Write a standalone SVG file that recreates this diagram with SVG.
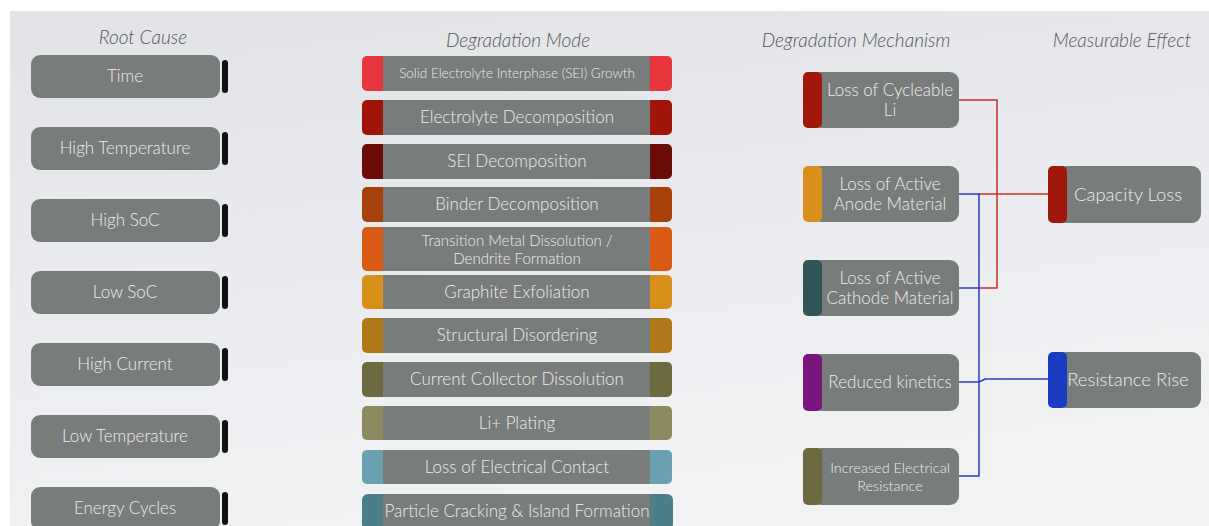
<svg xmlns="http://www.w3.org/2000/svg" width="1209" height="526" viewBox="0 0 1209 526">
<defs>
<linearGradient id="bg" x1="0" y1="0" x2="0.3" y2="1">
<stop offset="0" stop-color="#e1e3e7"/>
<stop offset="1" stop-color="#f1f2f4"/>
</linearGradient>
<style>
.hdr{font-family:Lato,"Open Sans",sans-serif;font-style:italic;font-weight:300;font-size:19px;fill:#555555;text-anchor:middle}
.box{fill:#787c7a}
.t{font-family:Lato,"Open Sans",sans-serif;font-weight:300;font-size:17px;fill:#eeeeee;text-anchor:middle}
.bar{fill:#111}
.red{stroke:#c4302a;stroke-width:1.5;fill:none}
.blue{stroke:#2a3cc4;stroke-width:1.5;fill:none}
</style>
</defs>
<rect x="0" y="0" width="1209" height="526" fill="#ffffff"/>
<rect x="10" y="11" width="1199" height="515" fill="url(#bg)"/>

<text class="hdr" x="143" y="44">Root Cause</text>
<text class="hdr" x="518" y="47">Degradation Mode</text>
<text class="hdr" x="856" y="47">Degradation Mechanism</text>
<text class="hdr" x="1122" y="47">Measurable Effect</text>

<g id="rc-time"><rect class="box" x="31" y="55" width="189" height="43" rx="9"/><rect class="bar" x="222" y="60" width="6" height="33" rx="3"/><text class="t" x="125" y="82">Time</text></g>
<g id="rc-hightemp"><rect class="box" x="31" y="127" width="189" height="43" rx="9"/><rect class="bar" x="222" y="132" width="6" height="33" rx="3"/><text class="t" x="125" y="154">High Temperature</text></g>
<g id="rc-highsoc"><rect class="box" x="31" y="199" width="189" height="43" rx="9"/><rect class="bar" x="222" y="204" width="6" height="33" rx="3"/><text class="t" x="125" y="226">High SoC</text></g>
<g id="rc-lowsoc"><rect class="box" x="31" y="271" width="189" height="43" rx="9"/><rect class="bar" x="222" y="276" width="6" height="33" rx="3"/><text class="t" x="125" y="298">Low SoC</text></g>
<g id="rc-highcurrent"><rect class="box" x="31" y="343" width="189" height="43" rx="9"/><rect class="bar" x="222" y="348" width="6" height="33" rx="3"/><text class="t" x="125" y="370">High Current</text></g>
<g id="rc-lowtemp"><rect class="box" x="31" y="415" width="189" height="43" rx="9"/><rect class="bar" x="222" y="420" width="6" height="33" rx="3"/><text class="t" x="125" y="442">Low Temperature</text></g>
<g id="rc-energy"><rect class="box" x="31" y="487" width="189" height="43" rx="9"/><rect class="bar" x="222" y="492" width="6" height="33" rx="3"/><text class="t" x="125" y="514">Energy Cycles</text></g>

<g id="dm-sei-growth"><rect x="362" y="56" width="310" height="35" rx="5" fill="#e8363f"/><rect class="box" x="383" y="56" width="267" height="35"/><text class="t" x="517" y="78" style="font-size:13.5px">Solid Electrolyte Interphase (SEI) Growth</text></g>
<g id="dm-electrolyte"><rect x="362" y="100" width="310" height="35" rx="5" fill="#a0150a"/><rect class="box" x="383" y="100" width="267" height="35"/><text class="t" x="517" y="123">Electrolyte Decomposition</text></g>
<g id="dm-sei-decomp"><rect x="362" y="144" width="310" height="35" rx="5" fill="#6b0c08"/><rect class="box" x="383" y="144" width="267" height="35"/><text class="t" x="517" y="167">SEI Decomposition</text></g>
<g id="dm-binder"><rect x="362" y="187" width="310" height="35" rx="5" fill="#a8400c"/><rect class="box" x="383" y="187" width="267" height="35"/><text class="t" x="517" y="210">Binder Decomposition</text></g>
<g id="dm-transition"><rect x="362" y="227" width="310" height="44" rx="5" fill="#d85a15"/><rect class="box" x="383" y="227" width="267" height="44"/><text class="t" x="517" y="246" style="font-size:15px">Transition Metal Dissolution /</text><text class="t" x="517" y="264" style="font-size:15px">Dendrite Formation</text></g>
<g id="dm-graphite"><rect x="362" y="275" width="310" height="34" rx="5" fill="#d8901a"/><rect class="box" x="383" y="275" width="267" height="34"/><text class="t" x="517" y="298">Graphite Exfoliation</text></g>
<g id="dm-structural"><rect x="362" y="318" width="310" height="35" rx="5" fill="#b07818"/><rect class="box" x="383" y="318" width="267" height="35"/><text class="t" x="517" y="341">Structural Disordering</text></g>
<g id="dm-collector"><rect x="362" y="362" width="310" height="35" rx="5" fill="#6e6a40"/><rect class="box" x="383" y="362" width="267" height="35"/><text class="t" x="517" y="385">Current Collector Dissolution</text></g>
<g id="dm-plating"><rect x="362" y="406" width="310" height="34" rx="5" fill="#8e8a60"/><rect class="box" x="383" y="406" width="267" height="34"/><text class="t" x="517" y="429">Li+ Plating</text></g>
<g id="dm-contact"><rect x="362" y="450" width="310" height="34" rx="5" fill="#6aa0b0"/><rect class="box" x="383" y="450" width="267" height="34"/><text class="t" x="517" y="473">Loss of Electrical Contact</text></g>
<g id="dm-cracking"><rect x="362" y="494" width="311" height="36" rx="6" fill="#4a7e88"/><rect class="box" x="383" y="494" width="267" height="36"/><text class="t" x="517" y="517">Particle Cracking &amp; Island Formation</text></g>

<g id="connectors">
<polyline class="red" points="959,100 997,100 997,288 979,288"/>
<line class="red" x1="979" y1="194" x2="1048" y2="194"/>
<polyline class="blue" points="959,194 979,194 979,476 959,476"/>
<line class="blue" x1="959" y1="288" x2="979" y2="288"/>
<line class="blue" x1="959" y1="382" x2="979" y2="382"/>
<polyline class="blue" points="979,382 985,379 1048,379"/>
</g>

<g id="mech-li"><rect class="box" x="812" y="72" width="147" height="56" rx="9"/><rect x="803" y="72" width="19" height="56" rx="5" fill="#a0180c"/><text class="t" x="890" y="96">Loss of Cycleable</text><text class="t" x="890" y="116">Li</text></g>
<g id="mech-anode"><rect class="box" x="812" y="166" width="147" height="56" rx="9"/><rect x="803" y="166" width="19" height="56" rx="5" fill="#d8901a"/><text class="t" x="890" y="190">Loss of Active</text><text class="t" x="890" y="210">Anode Material</text></g>
<g id="mech-cathode"><rect class="box" x="812" y="260" width="147" height="56" rx="9"/><rect x="803" y="260" width="19" height="56" rx="5" fill="#2e5558"/><text class="t" x="890" y="284">Loss of Active</text><text class="t" x="890" y="304">Cathode Material</text></g>
<g id="mech-kinetics"><rect class="box" x="812" y="354" width="147" height="57" rx="9"/><rect x="803" y="354" width="19" height="57" rx="5" fill="#7a1580"/><text class="t" x="890" y="388">Reduced kinetics</text></g>
<g id="mech-resistance"><rect class="box" x="812" y="448" width="147" height="57" rx="9"/><rect x="803" y="448" width="19" height="57" rx="5" fill="#6e6a40"/><text class="t" x="890" y="473" style="font-size:14.5px">Increased Electrical</text><text class="t" x="890" y="491" style="font-size:14.5px">Resistance</text></g>

<g id="eff-capacity"><rect class="box" x="1057" y="166" width="144" height="57" rx="9"/><rect x="1048" y="166" width="19" height="57" rx="5" fill="#a0180c"/><text class="t" x="1128" y="201" style="font-size:18.5px">Capacity Loss</text></g>
<g id="eff-resistance"><rect class="box" x="1057" y="352" width="144" height="56" rx="9"/><rect x="1048" y="352" width="19" height="56" rx="5" fill="#1a3cc0"/><text class="t" x="1128" y="386" style="font-size:18.5px">Resistance Rise</text></g>
</svg>
